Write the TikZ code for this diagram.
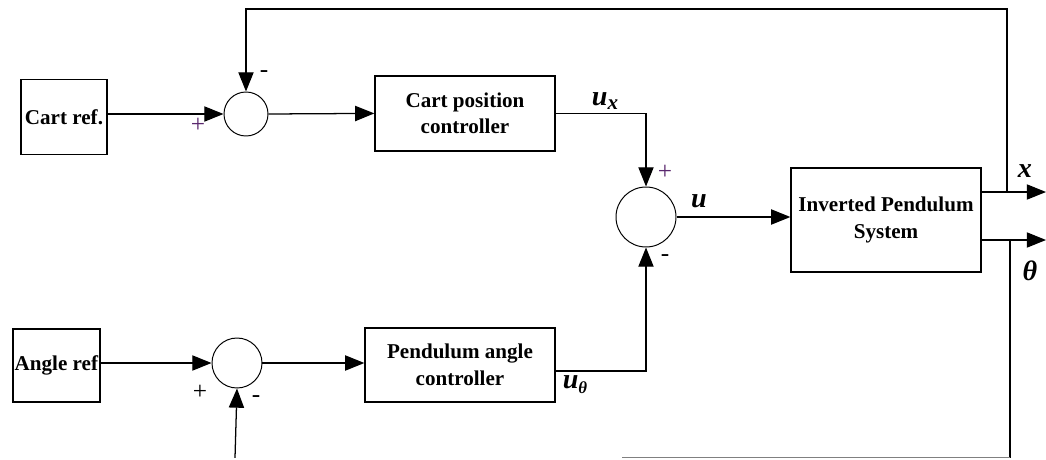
\documentclass[tikz,border=0pt]{standalone}
\usepackage{fontspec}
\setmainfont{Liberation Serif}
\usetikzlibrary{arrows.meta}
\definecolor{plusviolet}{RGB}{90,40,110}

\begin{document}
\begin{tikzpicture}[
  block/.style={draw, line width=0.9pt, inner sep=0pt, align=center,
    font=\fontsize{15}{19}\selectfont\bfseries},
  sumnode/.style={draw, circle, line width=0.7pt, inner sep=0pt},
  wire/.style={line width=0.9pt},
  sig/.style={wire, -{Triangle[length=0.48cm,width=0.38cm]}},
  sign/.style={font=\fontsize{18}{18}\selectfont},
  var/.style={font=\fontsize{20}{20}\selectfont\bfseries\itshape}
]
\useasboundingbox (0,0) rectangle (26.15,11.475);

% blocks and summing points
\node[block, minimum width=2.15cm, minimum height=1.875cm] (cartref) at (1.6,8.55) {Cart ref.};
\node[sumnode, minimum size=1.1cm] (sum1) at (6.15,8.625) {};
\node[block, minimum width=4.5cm, minimum height=1.875cm] (cartctrl) at (11.625,8.64) {Cart position\\controller};
\node[sumnode, minimum size=1.5cm] (sum2) at (16.15,6.05) {};
\node[block, minimum width=4.75cm, minimum height=2.6cm] (ips) at (22.15,5.975) {Inverted Pendulum\\System};
\node[block, minimum width=2.175cm, minimum height=1.825cm] (angleref) at (1.41,2.34) {Angle ref};
\node[sumnode, minimum size=1.25cm] (sum3) at (5.925,2.4) {};
\node[block, minimum width=4.75cm, minimum height=1.85cm] (anglectrl) at (11.5,2.35) {Pendulum angle\\controller};

% ends and corners of the signal lines
\coordinate (xout) at (26.15,6.675);
\coordinate (thout) at (26.15,5.475);
\coordinate (xtap) at (25.175,6.675);
\coordinate (thtap) at (25.25,5.475);
\coordinate (topcorner) at (25.175,11.25);
\coordinate (botcorner) at (25.25,0.03);
\coordinate (botend) at (15.55,0.03);
\coordinate (fbin) at (5.875,0.03);

% forward paths
\draw[sig] (cartref.east |- sum1.west) -- (sum1.west);
\draw[sig] (sum1.east) -- (cartctrl.west);
\draw[sig] (cartctrl.east) -| (sum2.north);
\draw[sig] (angleref.east |- sum3.west) -- (sum3.west);
\draw[sig] (sum3.east) -- (anglectrl.west |- sum3.east);
\draw[sig] ([yshift=-0.15cm]anglectrl.east) -| (sum2.south);
\draw[sig] (sum2.east) -- (ips.west |- sum2.east);
\draw[sig] (ips.east |- xout) -- (xout);
\draw[sig] (ips.east |- thout) -- (thout);

% feedback
\draw[sig] (xtap) -- (topcorner) -| (sum1.north);
\draw[wire] (thtap) -- (botcorner);
\draw[wire, gray] (botcorner) -- (botend);
\draw[sig] (fbin) -- (sum3.south);

% signals
\node[var] (ux) at (15.125,8.95) {u\raisebox{-0.3ex}{\fontsize{15}{15}\selectfont x}};
\node[var] (uth) at (14.375,1.85) {u\raisebox{-0.4ex}{\fontsize{12}{12}\selectfont θ}};
\node[var] (u) at (17.475,6.45) {u};
\node[var] (xlab) at (25.625,7.2) {x};
\node[var] (thlab) at (25.75,4.7) {θ};

% signs
\node[sign, text=plusviolet] (p1) at (4.95,8.35) {+};
\node[sign] (m1) at (6.6,9.625) {-};
\node[sign, text=plusviolet] (p2) at (16.625,7.175) {+};
\node[sign] (m2) at (16.625,5.025) {-};
\node[sign] (p3) at (5.0,1.675) {+};
\node[sign] (m3) at (6.4,1.5) {-};
\end{tikzpicture}
\end{document}
